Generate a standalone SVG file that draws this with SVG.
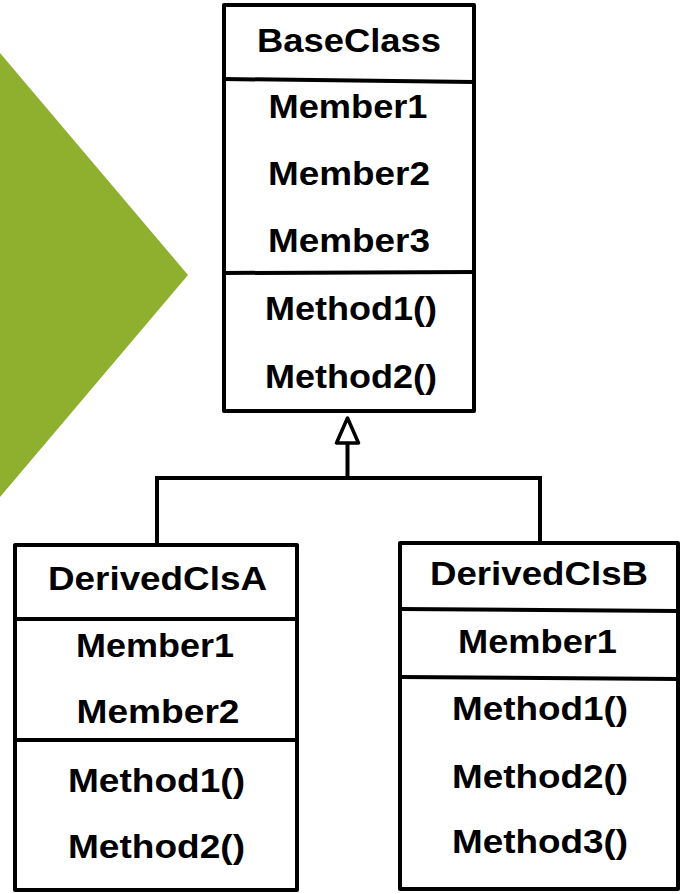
<svg xmlns="http://www.w3.org/2000/svg" width="683" height="894" viewBox="0 0 683 894">
<style>
.box{fill:#fff;stroke:#000;stroke-width:4;stroke-linejoin:round}
.div{stroke:#000;stroke-width:4;fill:none}
.t{font-family:"Liberation Sans",Arial,sans-serif;font-weight:bold;font-size:34px;fill:#000;text-anchor:middle}
.con{stroke:#000;stroke-width:4;fill:none}
</style>
<rect width="683" height="894" fill="#fff"/>
<polygon points="0,53 188,275 0,497" fill="#8FB02F"/>
<g id="connectors">
<polyline class="con" points="157,545 157,478 540,478 540,543"/>
<line class="con" x1="347.5" y1="478" x2="347.5" y2="443"/>
<polygon points="347.5,418 336.5,443 358.5,443" fill="#fff" stroke="#000" stroke-width="3.5" stroke-linejoin="round"/>
</g>
<g id="BaseClass">
<rect class="box" x="224" y="5" width="250" height="406"/>
<line class="div" x1="224" y1="79" x2="474" y2="82"/>
<line class="div" x1="224" y1="273" x2="474" y2="272"/>
<text class="t" x="349" y="52" textLength="184" lengthAdjust="spacingAndGlyphs">BaseClass</text>
<text class="t" x="348" y="118" textLength="159" lengthAdjust="spacingAndGlyphs">Member1</text>
<text class="t" x="349" y="185" textLength="162" lengthAdjust="spacingAndGlyphs">Member2</text>
<text class="t" x="349" y="252" textLength="162" lengthAdjust="spacingAndGlyphs">Member3</text>
<text class="t" x="351" y="320" textLength="172" lengthAdjust="spacingAndGlyphs">Method1()</text>
<text class="t" x="351" y="388" textLength="172" lengthAdjust="spacingAndGlyphs">Method2()</text>
</g>
<g id="DerivedClsA">
<rect class="box" x="15" y="545" width="282" height="345"/>
<line class="div" x1="15" y1="619" x2="297" y2="619"/>
<line class="div" x1="15" y1="740" x2="297" y2="740"/>
<text class="t" x="157.5" y="590" textLength="219" lengthAdjust="spacingAndGlyphs">DerivedClsA</text>
<text class="t" x="155" y="657" textLength="158" lengthAdjust="spacingAndGlyphs">Member1</text>
<text class="t" x="158" y="723" textLength="163" lengthAdjust="spacingAndGlyphs">Member2</text>
<text class="t" x="156.5" y="792" textLength="177" lengthAdjust="spacingAndGlyphs">Method1()</text>
<text class="t" x="156.5" y="858" textLength="177" lengthAdjust="spacingAndGlyphs">Method2()</text>
</g>
<g id="DerivedClsB">
<rect class="box" x="400" y="543" width="278" height="346"/>
<line class="div" x1="400" y1="609" x2="678" y2="611"/>
<line class="div" x1="400" y1="677" x2="678" y2="679"/>
<text class="t" x="539" y="585" textLength="218" lengthAdjust="spacingAndGlyphs">DerivedClsB</text>
<text class="t" x="537.5" y="653" textLength="159" lengthAdjust="spacingAndGlyphs">Member1</text>
<text class="t" x="540" y="720" textLength="176" lengthAdjust="spacingAndGlyphs">Method1()</text>
<text class="t" x="540" y="788" textLength="176" lengthAdjust="spacingAndGlyphs">Method2()</text>
<text class="t" x="540" y="853" textLength="176" lengthAdjust="spacingAndGlyphs">Method3()</text>
</g>
</svg>
